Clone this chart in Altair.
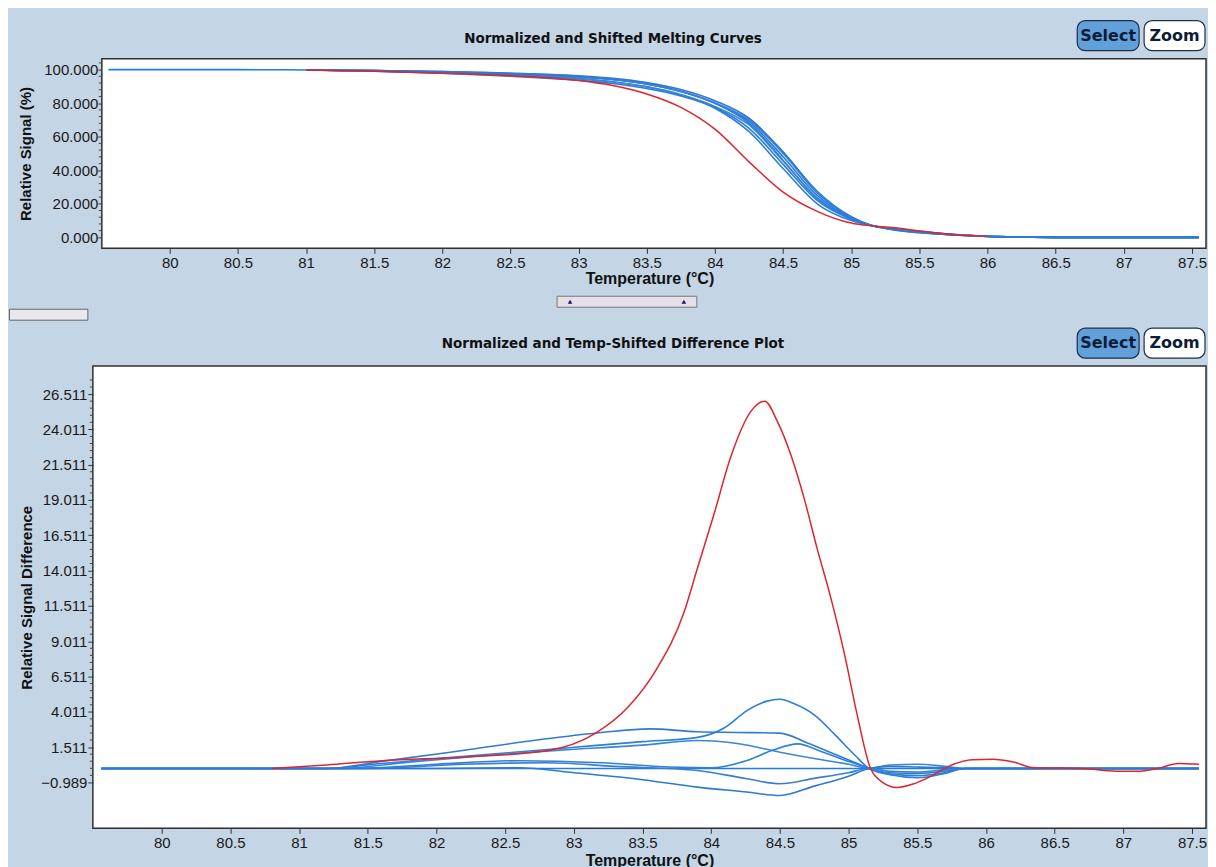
import altair as alt
import pandas as pd

# ---------------- axis ticks ----------------
X_TICKS = [80, 80.5, 81, 81.5, 82, 82.5, 83, 83.5, 84, 84.5, 85, 85.5, 86, 86.5, 87, 87.5]
TOP_Y_TICKS = [0, 20, 40, 60, 80, 100]
TOP_Y_MINOR = [v for v in range(4, 105, 4) if v % 20 != 0]
BOT_Y_TICKS = [-0.989, 1.511, 4.011, 6.511, 9.011, 11.511, 14.011, 16.511, 19.011, 21.511, 24.011, 26.511]
BOT_Y_MINOR = [round(-0.989 + 0.5 * k, 3) for k in range(1, 58) if k % 5 != 0]

TOP_TITLE = "Normalized and Shifted Melting Curves"
BOT_TITLE = "Normalized and Temp-Shifted Difference Plot"

# ---------------- top panel: normalized & shifted melting curves ----------------
TOP_TEMPS = [79.55, 80.5, 81.0, 81.5, 82.0, 82.5, 83.0, 83.25, 83.5, 83.75, 84.0, 84.25,
             84.5, 84.75, 85.0, 85.15, 85.3, 85.5, 85.75, 86.0, 86.25, 86.5, 87.55]
TOP_REF = [100, 100, 99.8, 99.4, 98.8, 97.8, 96.0, 94.3, 91.5, 87.0, 80.0, 69.0,
           48.0, 25.0, 11.5, 7.0, 4.8, 3.0, 1.5, 0.6, 0.2, 0.0, 0.0]
TOP_B1 = [None, None, 99.8, 99.15, 98.1, 96.7, 94.5, 92.6, 89.6, 84.9, 77.0, 63.0,
          41.0, 20.0, 10.0, 7.0, 5.2, 3.5, 1.7, 0.6, 0.2, 0.0, 0.0]
TOP_B2 = [None, None, 99.8, 99.05, 97.8, 96.1, 93.65, 91.7, 88.7, 84.3, 77.4, 65.0,
          43.5, 22.0, 10.8, 7.0, 5.1, 3.35, 1.6, 0.6, 0.2, 0.0, 0.0]
TOP_B3 = [None, None, 99.8, 99.25, 98.2, 96.8, 94.65, 92.8, 89.85, 85.15, 78.05, 67.0,
          45.5, 23.5, 11.2, 7.0, 4.55, 2.7, 1.4, 0.6, 0.2, 0.0, 0.0]
TOP_B5 = [None, None, 99.8, 99.4, 98.5, 97.3, 95.55, 93.95, 91.3, 86.9, 79.95, 68.0,
          46.0, 23.0, 11.0, 7.0, 5.25, 3.65, 1.8, 0.6, 0.2, 0.0, 0.0]
TOP_B6 = [None, None, 99.8, 99.4, 98.5, 97.4, 95.7, 94.15, 91.5, 87.1, 80.2, 70.0,
          50.0, 26.5, 12.0, 7.0, 5.0, 3.25, 1.5, 0.6, 0.2, 0.0, 0.0]
TOP_B7 = [None, None, 99.8, 99.4, 98.8, 97.75, 96.3, 94.85, 92.3, 88.1, 81.4, 71.0,
          51.0, 27.5, 12.3, 7.0, 4.65, 2.9, 1.5, 0.6, 0.2, 0.0, 0.0]
TOP_RED = [None, None, 99.8, 99.1, 97.9, 96.4, 93.5, 90.5, 85.5, 77.5, 64.5, 45.0,
           27.0, 15.5, 8.5, 6.8, 5.8, 3.8, 1.6, 0.7, None, None, None]

# ---------------- bottom panel: difference plot ----------------
RED_T = [80.8, 81.2, 81.6, 82.2, 82.8, 83.15, 83.4, 83.6, 83.8, 83.9, 84.02, 84.14, 84.29,
         84.39, 84.48, 84.58, 84.68, 84.77, 84.87, 84.97, 85.06, 85.16, 85.25, 85.35, 85.47,
         85.6, 85.74, 85.9, 86.05, 86.2, 86.35, 86.7, 86.95, 87.1, 87.25, 87.4, 87.55]
RED_V = [0.0, 0.25, 0.55, 0.8, 1.25, 2.45, 4.4, 7.0, 11.0, 14.2, 18.0, 22.0, 25.3,
         26.0, 24.6, 22.2, 19.0, 15.6, 12.1, 8.1, 3.9, 0.0, -1.0, -1.35, -1.1,
         -0.55, 0.2, 0.62, 0.65, 0.45, 0.05, 0.0, -0.2, -0.2, 0.0, 0.35, 0.3]
B1_T = [79.56, 81.2, 81.6, 82.0, 82.5, 83.0, 83.5, 83.9, 84.1, 84.26, 84.4, 84.5, 84.6,
        84.75, 84.9, 85.05, 85.15, 85.3, 85.5, 85.7, 85.85, 87.55]
B1_V = [0, 0, 0.35, 0.7, 1.1, 1.5, 1.9, 2.2, 2.9, 4.1, 4.75, 4.9, 4.6,
        3.8, 2.4, 0.9, 0, -0.4, -0.5, -0.3, 0, 0]
B2_T = [79.56, 81.2, 81.6, 82.1, 82.8, 83.2, 83.55, 83.9, 84.2, 84.5, 84.7, 84.9, 85.05,
        85.15, 85.3, 85.5, 85.7, 85.85, 87.55]
B2_V = [0, 0, 0.5, 1.15, 2.1, 2.55, 2.8, 2.6, 2.55, 2.5, 1.8, 1.0, 0.4,
        0, -0.3, -0.35, -0.2, 0, 0]
B3_T = [79.56, 81.3, 81.8, 82.4, 82.9, 83.5, 83.9, 84.2, 84.5, 84.75, 85.0, 85.15, 85.3,
        85.5, 85.7, 85.85, 87.55]
B3_V = [0, 0, 0.45, 0.95, 1.3, 1.65, 1.98, 1.75, 1.15, 0.7, 0.3, 0, 0.25,
        0.3, 0.15, 0, 0]
REF_T = [79.56, 87.55]
REF_V = [0, 0]
B5_T = [79.56, 81.4, 82.0, 82.6, 83.2, 83.7, 84.0, 84.26, 84.45, 84.63, 84.8, 85.0, 85.15,
        85.3, 85.5, 85.7, 85.85, 87.55]
B5_V = [0, 0, 0.3, 0.55, 0.4, 0.1, 0.05, 0.56, 1.3, 1.74, 1.2, 0.5, 0,
        -0.45, -0.65, -0.35, 0, 0]
B6_T = [79.56, 81.5, 82.2, 82.8, 83.3, 83.9, 84.26, 84.5, 84.75, 85.0, 85.15, 85.3, 85.5,
        85.7, 85.85, 87.55]
B6_V = [0, 0, 0.3, 0.4, 0.15, -0.14, -0.73, -1.08, -0.7, -0.3, 0, -0.2, -0.25,
        -0.1, 0, 0]
B7_T = [79.56, 82.0, 82.6, 83.0, 83.5, 83.9, 84.26, 84.5, 84.75, 85.0, 85.15, 85.3, 85.5,
        85.7, 85.85, 87.55]
B7_V = [0, 0, 0.05, -0.3, -0.8, -1.32, -1.67, -1.91, -1.25, -0.55, 0, 0.15, 0.1,
        0.05, 0, 0]

BLUE_NAMES = ["Sample 2", "Sample 3", "Sample 4", "Sample 5", "Sample 6", "Sample 7", "Sample 8"]
BLUE_COLORS = ["#2B7FD9", "#2F7BD2", "#3A86D6", "#1C7CE8", "#2F80D8", "#3A7FCF", "#2C7AD4"]
RED_NAME = "Sample 1"
RED_COLOR = "#E0242C"
BG = "#C4D5E6"
FRAME = "#2f2f2f"


def rows(temps, values, name):
    return [{"T": t, "v": v, "series": name} for t, v in zip(temps, values) if v is not None]


top_blue = pd.DataFrame(
    rows(TOP_TEMPS, TOP_B1, BLUE_NAMES[0]) + rows(TOP_TEMPS, TOP_B2, BLUE_NAMES[1])
    + rows(TOP_TEMPS, TOP_B3, BLUE_NAMES[2]) + rows(TOP_TEMPS, TOP_REF, BLUE_NAMES[3])
    + rows(TOP_TEMPS, TOP_B5, BLUE_NAMES[4]) + rows(TOP_TEMPS, TOP_B6, BLUE_NAMES[5])
    + rows(TOP_TEMPS, TOP_B7, BLUE_NAMES[6]))
top_red = pd.DataFrame(rows(TOP_TEMPS, TOP_RED, RED_NAME))

bot_blue = pd.DataFrame(
    rows(B1_T, B1_V, BLUE_NAMES[0]) + rows(B2_T, B2_V, BLUE_NAMES[1])
    + rows(B3_T, B3_V, BLUE_NAMES[2]) + rows(REF_T, REF_V, BLUE_NAMES[3])
    + rows(B5_T, B5_V, BLUE_NAMES[4]) + rows(B6_T, B6_V, BLUE_NAMES[5])
    + rows(B7_T, B7_V, BLUE_NAMES[6]))
bot_red = pd.DataFrame(rows(RED_T, RED_V, RED_NAME))

W = 1115
TOP_H = 190
BOT_H = 463
TOP_INSET = 9  # top frame starts a little to the right of the lower one

blue_color = alt.Color("series:N", scale=alt.Scale(domain=BLUE_NAMES, range=BLUE_COLORS), legend=None)


def header(title_text, title_y):
    one = pd.DataFrame({"label": ["Select"]})
    two = pd.DataFrame({"label": ["Zoom"]})
    ttl = pd.DataFrame({"label": [title_text]})
    head = alt.Chart(ttl).mark_text(font="DejaVu Sans", fontSize=13.5, fontWeight="bold", color="#111111",
                                    align="center", baseline="middle").encode(
        text="label:N", x=alt.value(521), y=alt.value(title_y))
    sel_r = alt.Chart(one).mark_rect(fill="#62A0DA", stroke="#1b2f4f", strokeWidth=1.2, cornerRadius=8).encode(
        x=alt.value(986), x2=alt.value(1048), y=alt.value(-38), y2=alt.value(-8))
    sel_t = alt.Chart(one).mark_text(font="DejaVu Sans", fontSize=16, fontWeight="bold", color="#0d1b36",
                                     align="center", baseline="middle").encode(
        text="label:N", x=alt.value(1017), y=alt.value(-23))
    zoom_r = alt.Chart(two).mark_rect(fill="#FFFFFF", stroke="#1b2f4f", strokeWidth=1.2, cornerRadius=8).encode(
        x=alt.value(1053), x2=alt.value(1114), y=alt.value(-38), y2=alt.value(-8))
    zoom_t = alt.Chart(two).mark_text(font="DejaVu Sans", fontSize=16, fontWeight="bold", color="#0d1b36",
                                      align="center", baseline="middle").encode(
        text="label:N", x=alt.value(1083.5), y=alt.value(-23))
    return [head, sel_r, sel_t, zoom_r, zoom_t]


def panel(blue_df, red_df, xdom, ydom, yticks, yminor, ytitle, title_x, inset, tick, lpad,
          title_text, title_y, xtitle_pad):
    x_axis = alt.Axis(values=X_TICKS, format="~g", title="Temperature (°C)", labelOverlap=False,
                      titlePadding=xtitle_pad, labelPadding=2, titleFontSize=16, tickSize=5)
    y_axis = alt.Axis(values=yticks, format=".3f", title=ytitle, titleX=title_x,
                      labelPadding=lpad, tickSize=tick, offset=-inset, labelOverlap=False)
    xs = alt.Scale(domain=xdom, nice=False, zero=False)
    ys = alt.Scale(domain=ydom, nice=False, zero=False)
    blue = alt.Chart(blue_df).mark_line(strokeWidth=1.6, interpolate="monotone", clip=True).encode(
        x=alt.X("T:Q", scale=xs, axis=x_axis), y=alt.Y("v:Q", scale=ys, axis=y_axis),
        color=blue_color, detail="series:N")
    red = alt.Chart(red_df).mark_line(strokeWidth=1.5, interpolate="monotone", clip=True, color=RED_COLOR).encode(
        x=alt.X("T:Q", scale=xs, axis=x_axis), y=alt.Y("v:Q", scale=ys, axis=y_axis), detail="series:N")
    minor = alt.Chart(pd.DataFrame({"v": yminor})).mark_rule(color="#444", strokeWidth=1).encode(
        y=alt.Y("v:Q", scale=ys, axis=y_axis), x=alt.value(inset - 3), x2=alt.value(inset))
    return [blue, red, minor] + header(title_text, title_y)


# ----- top panel -----
frame_df = pd.DataFrame({"k": ["frame"]})
top_frame = alt.Chart(frame_df).mark_rect(fill="white", stroke=FRAME, strokeWidth=1.5).encode(
    x=alt.value(TOP_INSET), x2=alt.value(W), y=alt.value(0), y2=alt.value(TOP_H))
top_layers = panel(top_blue, top_red, [79.436, 87.6025], [-6.55, 106.55], TOP_Y_TICKS,
                   TOP_Y_MINOR, "Relative Signal (%)", -68, TOP_INSET, 4, 0, TOP_TITLE, -20, 0)

# splitter widgets between the panels (decorative)
w1 = pd.DataFrame({"k": ["slider"]})
slider = alt.Chart(w1).mark_rect(fill="#E6DEE8", stroke="#777777", strokeWidth=1).encode(
    x=alt.value(465), x2=alt.value(605), y=alt.value(238), y2=alt.value(249))
tri = alt.Chart(pd.DataFrame({"k": ["a", "b"], "px": [478, 592]})).mark_point(
    shape="triangle-up", filled=True, size=22, color="#1a1a66", opacity=1).encode(
    x=alt.X("px:Q", scale=None), y=alt.value(243.5))
tab = alt.Chart(w1).mark_rect(fill="#E8E8EE", stroke="#666666", strokeWidth=1).encode(
    x=alt.value(-83.5), x2=alt.value(-5), y=alt.value(251), y2=alt.value(262))

top = alt.layer(top_frame, *top_layers, slider, tri, tab).properties(
    width=W, height=TOP_H, view=alt.ViewBackground(fill="transparent", stroke="transparent"))

# ----- bottom panel -----
bot_layers = panel(bot_blue, bot_red, [79.4985, 87.6017], [-4.241, 28.49], BOT_Y_TICKS,
                   BOT_Y_MINOR, "Relative Signal Difference", -58, 0, 5, 1, BOT_TITLE, -22, 2)
bottom = alt.layer(*bot_layers).properties(
    width=W, height=BOT_H, view=alt.ViewBackground(fill="white", stroke=FRAME, strokeWidth=1.5))

chart = alt.vconcat(top, bottom, spacing=118, bounds="flush").properties(
    padding={"left": 0, "top": 10, "right": 0, "bottom": 0}
).configure(background=BG).configure_axis(
    grid=False, domain=False, tickColor="#333333", labelOverlap=False,
    labelFont="Liberation Sans", labelFontSize=15, labelColor="#1a1a1a",
    titleFont="Liberation Sans", titleFontSize=15, titleFontWeight="bold", titleColor="#111111"
)

chart.save("out.html", embed_options={"renderer": "svg", "actions": False})
